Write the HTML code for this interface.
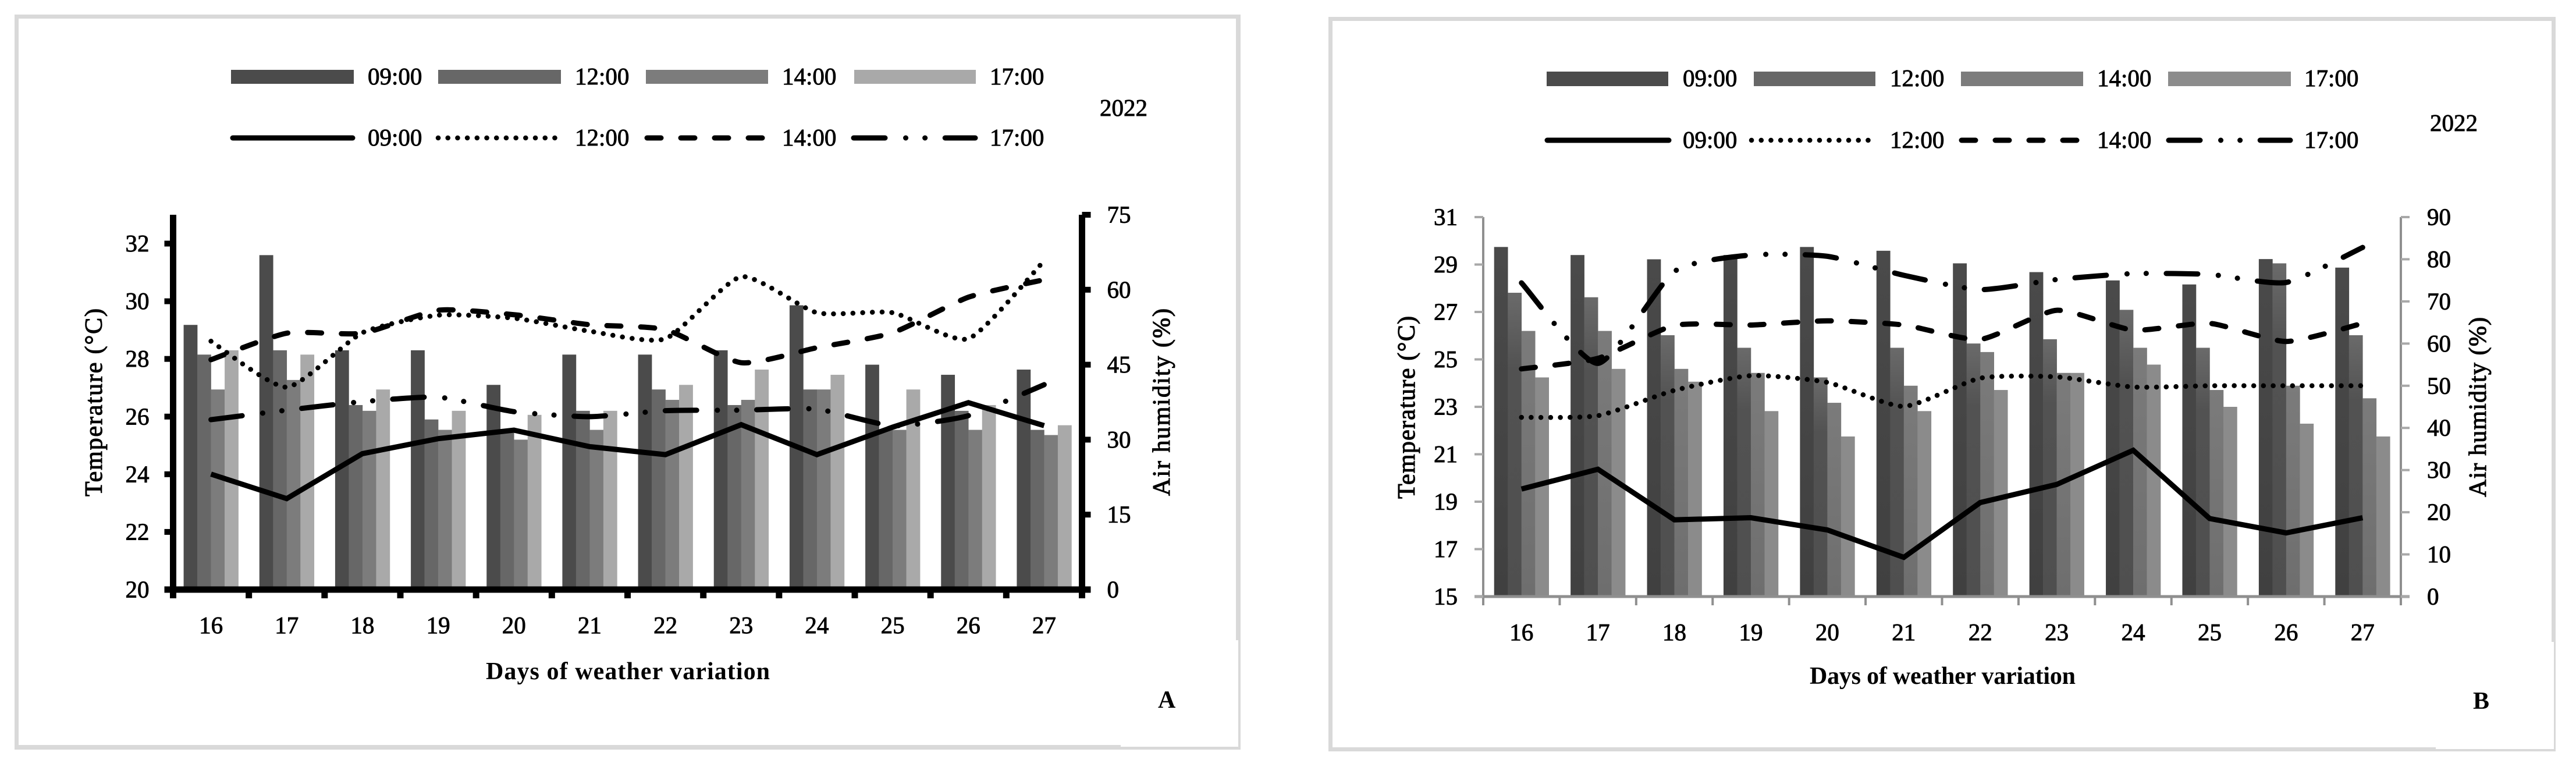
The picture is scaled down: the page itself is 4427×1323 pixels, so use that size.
<!DOCTYPE html>
<html lang="en">
<head>
<meta charset="utf-8">
<title>Daily temperature and air humidity, panels A and B</title>
<style>
  html, body { margin: 0; padding: 0; background: #fff; }
  svg { display: block; }
  text { font-family: "Liberation Serif", serif; fill: #000; }
  .lg { font-size: 41px; font-weight: 400; stroke: #000; stroke-width: 0.9px; }
  .tk { font-size: 41px; font-weight: 400; stroke: #000; stroke-width: 0.9px; }
  .ti { font-size: 42px; font-weight: 700; }
  .yt { font-size: 42px; font-weight: 400; stroke: #000; stroke-width: 1.1px; }
</style>
</head>
<body>
<svg id="figure" xmlns="http://www.w3.org/2000/svg" width="4427" height="1323" viewBox="0 0 4427 1323">
  <defs>
    <linearGradient id="gradB09" x1="0" y1="0" x2="0" y2="1"><stop offset="0" stop-color="#4a4a4a"/><stop offset="1" stop-color="#404040"/></linearGradient>
    <linearGradient id="gradB12" x1="0" y1="0" x2="0" y2="1"><stop offset="0" stop-color="#6a6a6a"/><stop offset="0.25" stop-color="#525252"/><stop offset="1" stop-color="#4f4f4f"/></linearGradient>
    <linearGradient id="gradB14" x1="0" y1="0" x2="0" y2="1"><stop offset="0" stop-color="#7b7b7b"/><stop offset="1" stop-color="#6e6e6e"/></linearGradient>
  </defs>
  <rect x="0" y="0" width="4427" height="1323" fill="#fff"/>

  <g fill="#d9d9d9">
    <rect x="25" y="25" width="2105" height="7"/>
    <rect x="25" y="25" width="7" height="1263"/>
    <rect x="2124" y="25" width="8" height="1075"/>
    <rect x="2128" y="1100" width="4" height="188"/>
    <rect x="25" y="1280" width="1901" height="8"/>
    <rect x="1926" y="1283" width="206" height="5"/>
  </g>
  <g fill="#d9d9d9">
    <rect x="2283" y="29" width="2109" height="7"/>
    <rect x="2283" y="29" width="7" height="1262"/>
    <rect x="4385" y="29" width="7" height="1074"/>
    <rect x="4389" y="1103" width="3" height="188"/>
    <rect x="2283" y="1284" width="1903" height="7"/>
    <rect x="4186" y="1287" width="206" height="4"/>
  </g>

  <g id="chartA"></g>
  <g id="chartB"></g>

  <!-- Panel A legend -->
  <g>
    <rect x="397" y="120" width="211" height="24" fill="#4b4b4b"/>
    <text class="lg" x="632" y="145">09:00</text>
    <rect x="753" y="120" width="211" height="24" fill="#676767"/>
    <text class="lg" x="988" y="145">12:00</text>
    <rect x="1110" y="120" width="210" height="24" fill="#7c7c7c"/>
    <text class="lg" x="1344" y="145">14:00</text>
    <rect x="1468" y="120" width="209" height="24" fill="#a9a9a9"/>
    <text class="lg" x="1701" y="145">17:00</text>
    <line x1="400" y1="237" x2="606" y2="237" stroke="#000" stroke-width="9" stroke-linecap="round"/>
    <text class="lg" x="632" y="250">09:00</text>
    <line x1="753" y1="237" x2="961" y2="237" stroke="#000" stroke-width="8.5" stroke-linecap="round" stroke-dasharray="0.1 16.6"/>
    <text class="lg" x="988" y="250">12:00</text>
    <line x1="1112" y1="237" x2="1312" y2="237" stroke="#000" stroke-width="9" stroke-linecap="round" stroke-dasharray="24 34"/>
    <text class="lg" x="1344" y="250">14:00</text>
    <line x1="1467" y1="237" x2="1676" y2="237" stroke="#000" stroke-width="9" stroke-linecap="round" stroke-dasharray="54 35.5 0.1 33 0.1 34.5"/>
    <text class="lg" x="1701" y="250">17:00</text>
    <text class="lg" x="1890" y="199">2022</text>
  </g>

  <!-- Panel B legend -->
  <g>
    <rect x="2658" y="123" width="209" height="25" fill="#4b4b4b"/>
    <text class="lg" x="2892" y="148">09:00</text>
    <rect x="3014" y="123" width="209" height="25" fill="#676767"/>
    <text class="lg" x="3248" y="148">12:00</text>
    <rect x="3370" y="123" width="210" height="25" fill="#7c7c7c"/>
    <text class="lg" x="3604" y="148">14:00</text>
    <rect x="3726" y="123" width="211" height="25" fill="#8c8c8c"/>
    <text class="lg" x="3960" y="148">17:00</text>
    <line x1="2659" y1="241" x2="2868" y2="241" stroke="#000" stroke-width="9" stroke-linecap="round"/>
    <text class="lg" x="2892" y="254">09:00</text>
    <line x1="3010" y1="241" x2="3216" y2="241" stroke="#000" stroke-width="8.5" stroke-linecap="round" stroke-dasharray="0.1 16.6"/>
    <text class="lg" x="3248" y="254">12:00</text>
    <line x1="3371" y1="241" x2="3571" y2="241" stroke="#000" stroke-width="9" stroke-linecap="round" stroke-dasharray="24 34"/>
    <text class="lg" x="3604" y="254">14:00</text>
    <line x1="3727" y1="241" x2="3936" y2="241" stroke="#000" stroke-width="9" stroke-linecap="round" stroke-dasharray="54 35.5 0.1 33 0.1 34.5"/>
    <text class="lg" x="3960" y="254">17:00</text>
    <text class="lg" x="4176" y="225">2022</text>
  </g>

  <!-- Titles -->
  <text class="yt" transform="translate(175 853) rotate(-90)" textLength="323" lengthAdjust="spacing">Temperature (°C)</text>
  <text class="yt" transform="translate(2010 852) rotate(-90)" textLength="322" lengthAdjust="spacing">Air humidity (%)</text>
  <text class="ti" x="835" y="1167" textLength="488" lengthAdjust="spacing">Days of weather variation</text>
  <text class="ti" x="1990" y="1216">A</text>

  <text class="yt" transform="translate(2431 857) rotate(-90)" textLength="314" lengthAdjust="spacing">Temperature (°C)</text>
  <text class="yt" transform="translate(4272 854) rotate(-90)" textLength="309" lengthAdjust="spacing">Air humidity (%)</text>
  <text class="ti" x="3110" y="1175" textLength="457" lengthAdjust="spacing">Days of weather variation</text>
  <text class="ti" x="4250" y="1218">B</text>
</svg>

<script>
// Shared categories
const days = [16, 17, 18, 19, 20, 21, 22, 23, 24, 25, 26, 27];
const times = ['09:00', '12:00', '14:00', '17:00'];

// Panel A axis ticks
const tempTicksA = [20, 22, 24, 26, 28, 30, 32];
const humTicksA = [0, 15, 30, 45, 60, 75];

// Panel A temperature bars (deg C)
const tempA0900 = [29.18, 31.6, 28.3, 28.3, 27.1, 28.15, 28.15, 28.3, 29.86, 27.8, 27.45, 27.63];
const tempA1200 = [28.15, 28.3, 26.4, 25.9, 25.5, 26.2, 26.94, 26.4, 26.94, 25.54, 26.2, 25.54];
const tempA1400 = [26.94, 27.27, 26.2, 25.54, 25.2, 25.54, 26.58, 26.58, 26.94, 25.54, 25.54, 25.36];
const tempA1700 = [28.3, 28.15, 26.94, 26.2, 26.06, 26.2, 27.1, 27.63, 27.45, 26.94, 26.4, 25.7];

// Panel A humidity lines (%)
const humA0900 = [23.1, 18.2, 27.2, 30.2, 31.9, 28.6, 27, 33, 27, 32.5, 37.4, 32.8];
const humA1200 = [49.7, 40.5, 51.4, 54.9, 54.3, 51.7, 50.2, 62.6, 55.4, 55.4, 50.2, 65.8];
const humA1400 = [46, 51.3, 51.3, 55.9, 55, 53, 52, 45.4, 48.4, 51.4, 58.5, 62];
const humA1700 = [34, 35.9, 37.6, 38.5, 35.6, 34.6, 35.8, 35.9, 36.1, 32.8, 34.8, 41];

// Panel B axis ticks
const tempTicksB = [15, 17, 19, 21, 23, 25, 27, 29, 31];
const humTicksB = [0, 10, 20, 30, 40, 50, 60, 70, 80, 90];

// Panel B temperature bars (deg C)
const tempB0900 = [29.74, 29.4, 29.22, 29.4, 29.74, 29.58, 29.05, 28.68, 28.33, 28.16, 29.23, 28.87];
const tempB1200 = [27.81, 27.62, 26.02, 25.49, 24.24, 25.49, 25.67, 25.85, 27.09, 25.49, 29.05, 26.02];
const tempB1400 = [26.2, 26.2, 24.6, 24.43, 23.17, 23.89, 25.31, 24.43, 25.49, 23.71, 23.89, 23.36];
const tempB1700 = [24.24, 24.6, 24.06, 22.82, 21.75, 22.82, 23.71, 24.43, 24.78, 23, 22.29, 21.75];

// Panel B humidity lines (%)
const humB0900 = [25.5, 30.2, 18.2, 18.7, 15.8, 9.3, 22.3, 26.6, 34.7, 18.5, 15.1, 18.7];
const humB1200 = [42.5, 42.9, 48.9, 52.4, 50.8, 45.1, 51.8, 52.1, 49.7, 50, 50, 50];
const humB1400 = [54, 56.5, 64.3, 64.4, 65.4, 64.4, 61, 67.9, 63.2, 64.8, 60.5, 64.8];
const humB1700 = [74.4, 55.3, 77.1, 81, 80.7, 76.2, 72.8, 75.2, 76.6, 76.4, 74.5, 82.8];

const NS = 'http://www.w3.org/2000/svg';

function make(tag, attrs, parent) {
  const el = document.createElementNS(NS, tag);
  for (const k in attrs) el.setAttribute(k, attrs[k]);
  parent.appendChild(el);
  return el;
}

function smoothPath(pts) {
  const k = 10;
  let d = 'M' + pts[0][0] + ' ' + pts[0][1];
  for (let i = 0; i < pts.length - 1; i++) {
    const p0 = pts[Math.max(i - 1, 0)], p1 = pts[i], p2 = pts[i + 1], p3 = pts[Math.min(i + 2, pts.length - 1)];
    const c1x = p1[0] + (p2[0] - p0[0]) / k, c1y = p1[1] + (p2[1] - p0[1]) / k;
    const c2x = p2[0] - (p3[0] - p1[0]) / k, c2y = p2[1] - (p3[1] - p1[1]) / k;
    d += ' C' + c1x + ' ' + c1y + ' ' + c2x + ' ' + c2y + ' ' + p2[0] + ' ' + p2[1];
  }
  return d;
}

function straightPath(pts) {
  return pts.map(function (p, i) { return (i ? 'L' : 'M') + p[0] + ' ' + p[1]; }).join(' ');
}

function drawPanel(root, cfg) {
  const slot = (cfg.right - cfg.left) / days.length;
  const xCenter = function (i) { return cfg.left + slot * (i + 0.5); };
  const yTemp = function (v) { return cfg.base - (v - cfg.tempMin) * (cfg.base - cfg.top) / (cfg.tempMax - cfg.tempMin); };
  const yHum = function (v) { return cfg.base - (v - cfg.humMin) * (cfg.base - cfg.top) / (cfg.humMax - cfg.humMin); };
  const barW = 23.5;

  // Bars
  const barsGroup = make('g', {}, root);
  
  
  cfg.bars.forEach(function (series, s) {
    series.forEach(function (v, i) {
      const y = yTemp(v);
      const bar = make('rect', {
        x: xCenter(i) - 2 * barW + s * barW,
        y: y,
        width: barW + 0.3,
        height: cfg.base - y,
        fill: cfg.barFills[s]
      }, barsGroup);
      
      
    });
  });

  // Axes
  const axes = make('g', { fill: cfg.axisColor }, root);
  
  
  const t = cfg.axisW, tk = cfg.tickW;
  const leftAxis = make('rect', { x: cfg.left - t / 2, y: cfg.top, width: t, height: cfg.base - cfg.top }, axes);
  
  
  const rightAxis = make('rect', { x: cfg.right - t / 2, y: cfg.top, width: t, height: cfg.base - cfg.top }, axes);
  
  
  const baseLine = make('rect', { x: cfg.left - 15, y: cfg.base - cfg.baseW / 2, width: cfg.right - cfg.left + 30, height: cfg.baseW }, axes);
  
  

  for (let i = 0; i <= days.length; i++) {
    const xt = make('rect', { x: cfg.left + slot * i - t / 2, y: cfg.base, width: t, height: 15 }, axes);
    
    
  }

  cfg.tempTicks.forEach(function (v) {
    const y = yTemp(v);
    const m = make('rect', { x: cfg.left - 15, y: y - tk / 2, width: 15, height: tk, fill: cfg.tickColor }, axes);
    
    
    const lab = make('text', { class: 'tk', x: cfg.left - cfg.leftLabelGap, y: y + 13.5, 'text-anchor': 'end' }, root);
    lab.textContent = v;
    
    
  });

  cfg.humTicks.forEach(function (v) {
    const y = yHum(v);
    const m = make('rect', { x: cfg.right, y: y - tk / 2, width: 15, height: tk, fill: cfg.tickColor }, axes);
    
    
    const lab = make('text', { class: 'tk', x: cfg.right + cfg.rightLabelGap, y: y + 13.5 }, root);
    lab.textContent = v;
    
    
  });

  days.forEach(function (d, i) {
    const lab = make('text', { class: 'tk', x: xCenter(i), y: cfg.xLabelY, 'text-anchor': 'middle' }, root);
    lab.textContent = d;
    
    
  });

  // Lines
  const styles = [
    { dash: null, cap: 'butt', width: 9, smooth: false },
    { dash: '0.1 16.6', cap: 'round', width: 8.5, smooth: true },
    { dash: '24 34', cap: 'round', width: 9, smooth: true },
    { dash: '54 35.5 0.1 33 0.1 34.5', cap: 'round', width: 9, smooth: true }
  ];
  cfg.lines.forEach(function (series, s) {
    const pts = series.map(function (v, i) { return [xCenter(i), yHum(v)]; });
    const st = styles[s];
    const attrs = {
      d: st.smooth ? smoothPath(pts) : straightPath(pts),
      fill: 'none',
      stroke: '#000',
      'stroke-width': st.width,
      'stroke-linecap': st.cap,
      'stroke-linejoin': 'miter'
    };
    if (st.dash) attrs['stroke-dasharray'] = st.dash;
    const line = make('path', attrs, root);
    
    
  });
}

drawPanel(document.getElementById('chartA'), {
  left: 297.5, right: 1859.5, top: 369, base: 1013,
  tempMin: 20, tempMax: 33, humMin: 0, humMax: 75,
  axisW: 11, tickW: 10, baseW: 11, axisColor: '#000', tickColor: '#000',
  leftLabelGap: 41, rightLabelGap: 43, xLabelY: 1088,
  tempTicks: tempTicksA, humTicks: humTicksA,
  bars: [tempA0900, tempA1200, tempA1400, tempA1700],
  barFills: ['#4b4b4b', '#676767', '#7c7c7c', '#a9a9a9'],
  lines: [humA0900, humA1200, humA1400, humA1700]
});

drawPanel(document.getElementById('chartB'), {
  left: 2549, right: 4126, top: 373, base: 1025,
  tempMin: 15, tempMax: 31, humMin: 0, humMax: 90,
  axisW: 4, tickW: 4, baseW: 5, axisColor: '#8f8f8f', tickColor: '#a8a8a8',
  leftLabelGap: 44, rightLabelGap: 45, xLabelY: 1100,
  tempTicks: tempTicksB, humTicks: humTicksB,
  bars: [tempB0900, tempB1200, tempB1400, tempB1700],
  barFills: ['url(#gradB09)', 'url(#gradB12)', 'url(#gradB14)', '#8b8b8b'],
  lines: [humB0900, humB1200, humB1400, humB1700]
});
</script>
</body>
</html>
